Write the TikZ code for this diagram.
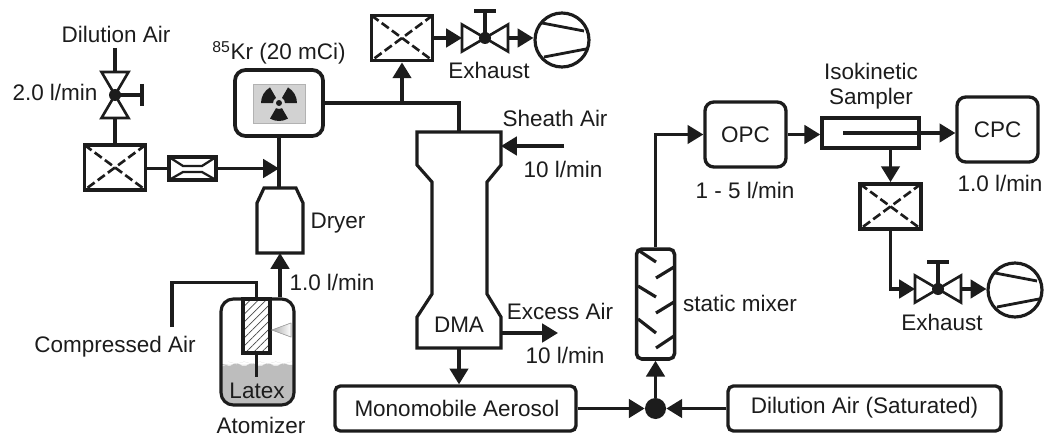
\documentclass[tikz,border=0pt]{standalone}
\usepackage{fontspec}
\setmainfont{Liberation Sans}
\usetikzlibrary{arrows.meta, positioning, calc, patterns.meta, decorations.pathmorphing}
\definecolor{inkblack}{HTML}{1C1C1C}
\definecolor{liquidgray}{HTML}{BDBDBD}
\definecolor{panelgray}{HTML}{D2D2D2}
\definecolor{conegray}{HTML}{A8A8A8}
\tikzset{
  >={Triangle[length=9pt,width=10.5pt]},
  pipe/.style={line width=1.8pt, draw=inkblack},
  flow/.style={->, line width=1.8pt, draw=inkblack},
  lbl/.style={font=\fontsize{12.8}{15}\selectfont, text=inkblack, inner sep=0pt, align=center},
  devbox/.style={draw=inkblack, line width=1.9pt, rounded corners=3pt, fill=white, inner sep=0pt,
                 font=\fontsize{12.8}{15}\selectfont, text=inkblack},
  filterbox/.style={draw=inkblack, line width=2.2pt, fill=white, minimum width=1.22cm, minimum height=0.9cm,
                    inner sep=0pt,
                    path picture={\draw[line width=1.5pt, dash pattern=on 5pt off 2.2pt]
                      (path picture bounding box.north west) -- (path picture bounding box.south east)
                      (path picture bounding box.north east) -- (path picture bounding box.south west);}},
  flowelem/.style={draw=inkblack, line width=2.1pt, fill=white, minimum width=0.94cm, minimum height=0.46cm,
                    inner sep=0pt,
                    path picture={\draw[line width=1.3pt]
                      (path picture bounding box.north west) -- ++(14,9) -- ++(19,0) -- (path picture bounding box.north east)
                      (path picture bounding box.south west) -- ++(14,-8) -- ++(19,0) -- (path picture bounding box.south east);}},
  pumpnode/.style={circle, draw=inkblack, line width=1.8pt, fill=white, minimum size=1.08cm, inner sep=0pt,
                    path picture={\draw[line width=1.6pt]
                      (path picture bounding box.center) ++(-20,-17) -- ++(42,8)
                      (path picture bounding box.center) ++(-18,17) -- ++(42,-8);}},
  valvepic/.pic={
    \draw[line width=1.5pt, draw=inkblack, fill=white] (-23,-13.5) -- (-23,13.5) -- (23,-13.5) -- (23,13.5) -- cycle;
    \draw[pipe] (0,0) -- (0,-27) (-11,-27) -- (11,-27);
    \fill[inkblack] (0,0) circle[radius=6];
    \coordinate (-in) at (-23,0);
    \coordinate (-out) at (23,0);
  },
}
\begin{document}
\begin{tikzpicture}[x=0.02cm, y=-0.02cm]
\useasboundingbox (0,0) rectangle (1050,439);

% ---- dilution air branch (left) ----
\node[lbl] (lbldilution) at (116,34) {Dilution Air};
\coordinate (dilutionin) at (115,48);
\pic[rotate=-90] (va) at (115,95) {valvepic};
\node[lbl] (lblflowa) at (55,92) {2.0 l/min};
\node[filterbox] (filtera) at (115,167.5) {};
\node[flowelem] (restrict) at (192.5,168.5) {};
\coordinate (mergea) at (279,168.5);

\draw[pipe] (dilutionin) -- (va-in);
\draw[pipe] (va-out) -- (filtera.north);
\draw[pipe] (filtera.east |- restrict.west) -- (restrict.west);
\draw[flow] (restrict.east) -- (mergea);

% ---- neutralizer ----
\node[lbl] (lblkr) at (279,53) {\textsuperscript{85}Kr (20 mCi)};
\node[devbox, rounded corners=6pt, line width=2.1pt, minimum width=1.76cm, minimum height=1.32cm] (krbox) at (279,103) {};
\node[draw=gray!60, fill=panelgray, thin, minimum width=1.04cm, minimum height=0.78cm, inner sep=0pt] (krsym) at (279,103.5) {};
\begin{scope}[shift={(279,103)}]
  \fill[inkblack] (180:18) arc[start angle=180, end angle=240, radius=18] -- (240:6) arc[start angle=240, end angle=180, radius=6] -- cycle;
  \fill[inkblack] (300:18) arc[start angle=300, end angle=360, radius=18] -- (360:6) arc[start angle=360, end angle=300, radius=6] -- cycle;
  \fill[inkblack] (60:18) arc[start angle=60, end angle=120, radius=18] -- (120:6) arc[start angle=120, end angle=60, radius=6] -- cycle;
  \fill[inkblack] (0,0) circle[radius=3];
\end{scope}

% ---- dryer and atomizer ----
\node[minimum width=0.92cm, minimum height=1.3cm, inner sep=0pt, outer sep=0pt] (dryer) at (280,220.5) {};
\draw[pipe] (264,188) -- (296,188) -- (303,203) -- (303,253) -- (257,253) -- (257,203) -- cycle;
\node[lbl] (lbldryer) at (338,223) {Dryer};
\draw[pipe] (krbox.south) -- (krbox.south |- dryer.north);

\node[devbox, rounded corners=7pt, line width=1.8pt, minimum width=1.46cm, minimum height=2.12cm,
      path picture={\fill[liquidgray] (-42,13) decorate[decoration={snake, amplitude=0.4pt, segment length=9pt}] {-- (42,13)} -- (42,58) -- (-42,58) -- cycle;}] (atomizer) at (257.5,352) {};
\node[draw=inkblack, line width=2pt, pattern={Lines[angle=45, distance=3.2pt, line width=0.4pt]}, pattern color=inkblack!80,
      minimum width=0.54cm, minimum height=1.08cm, inner sep=0pt] (tube) at (256.5,326) {};
\fill[left color=conegray, right color=white, draw=conegray, thin] (272,330) -- (291,323) -- (291,337) -- cycle;
\coordinate (stemend) at (256.5,377);
\draw[pipe] (tube.south) -- (stemend);
\node[lbl] (lbllatex) at (257,391) {Latex};
\node[lbl] (lblatomizer) at (261,425) {Atomizer};
\coordinate (airin) at (172,327);
\draw[pipe] (airin) |- ($(tube.north)+(0,-16)$) -- (tube.north);
\node[lbl] (lblair) at (115,347) {Compressed Air};
\draw[flow] (dryer.south |- atomizer.north) -- (dryer.south);
\node[lbl] (lblflowb) at (332,282) {1.0 l/min};

% ---- DMA column ----
\node[minimum width=1.68cm, minimum height=4.32cm, inner sep=0pt, outer sep=0pt] (dma) at (459,240) {};
\draw[pipe] (417,132) -- (501,132) -- (501,165) -- (487,182) -- (487,294) -- (501,317) -- (501,348)
      -- (417,348) -- (417,317) -- (432,294) -- (432,182) -- (417,165) -- cycle;
\node[lbl] (lbldma) at (459,325) {DMA};
\draw[pipe] (krbox.east) -| (dma.north);
\coordinate (tee) at (402,103);

% ---- upper exhaust ----
\node[filterbox] (filterb) at (402,38) {};
\pic (vb) at (485,38) {valvepic};
\node[pumpnode] (pumpb) at (562,40) {};
\node[lbl] (lblexhausta) at (489,70) {Exhaust};
\draw[flow] (tee) -- (filterb.south);
\draw[flow] (filterb.east) -- (vb-in);
\draw[flow] (vb-out) -- (pumpb.west |- vb-out);

% ---- sheath and excess air ----
\coordinate (sheathin) at (564,146);
\coordinate (excessout) at (558,333);
\node[lbl] (lblsheath) at (555,118) {Sheath Air};
\node[lbl] (lblsheathflow) at (563,169) {10 l/min};
\node[lbl] (lblexcess) at (560,311) {Excess Air};
\node[lbl] (lblexcessflow) at (565,355) {10 l/min};
\draw[flow] (sheathin) -- (sheathin -| dma.east);
\draw[flow] (excessout -| dma.east) -- (excessout);

% ---- bottom row ----
\node[devbox, minimum width=4.82cm, minimum height=0.9cm] (mono) at (455.5,408.5) {};
\node[lbl] (lblmono) at (457,408) {Monomobile Aerosol};
\node[devbox, minimum width=5.46cm, minimum height=0.9cm] (satair) at (864.5,408.5) {};
\node[lbl] (lblsatair) at (864.5,408) {Dilution Air (Saturated)};
\node[circle, fill=inkblack, minimum size=0.42cm, inner sep=0pt] (junction) at (655.5,408.5) {};
\draw[flow] (dma.south) -- (dma.south |- mono.north);
\draw[flow] (mono.east) -- (junction.west);
\draw[flow] (satair.west) -- (junction.east);

% ---- static mixer ----
\node[devbox, line width=2pt, minimum width=0.76cm, minimum height=2.2cm] (mixer) at (655.5,304) {};
\draw[pipe] (638,250) -- (656,262) (638,286) -- (656,297) (638,319) -- (656,333)
            (674,267) -- (656,278) (674,302) -- (656,313) (674,336) -- (656,348);
\node[lbl] (lblmixer) at (740,303) {static mixer};
\draw[flow] (junction.north) -- (mixer.south);

% ---- counters (right) ----
\node[devbox, rounded corners=5pt, minimum width=1.62cm, minimum height=1.3cm] (opc) at (745.5,134.5) {OPC};
\node[lbl] (lblopcflow) at (745,190) {1 - 5 l/min};
\node[draw=inkblack, line width=2pt, fill=white, minimum width=1.94cm, minimum height=0.6cm, inner sep=0pt] (sampler) at (870.5,133) {};
\node[lbl] (lblsampler) at (871,86) {Isokinetic\\[-0.6pt]Sampler};
\node[devbox, rounded corners=5pt, minimum width=1.62cm, minimum height=1.3cm] (cpc) at (997.5,129.5) {CPC};
\node[lbl] (lblcpcflow) at (1000,183) {1.0 l/min};
\coordinate (probe) at (843,133);
\draw[flow] (mixer.north) |- (opc.west);
\draw[flow] (opc.east) -- (sampler.west |- opc.east);
\draw[flow] (probe) -- (probe -| cpc.west);

% ---- lower exhaust ----
\node[filterbox] (filterc) at (890.5,206.5) {};
\pic (vc) at (938,289) {valvepic};
\node[pumpnode] (pumpc) at (1015,290) {};
\node[lbl] (lblexhaustb) at (942,322) {Exhaust};
\draw[flow] (sampler.south -| filterc.north) -- (filterc.north);
\draw[flow] (filterc.south) |- (vc-in);
\draw[flow] (vc-out) -- (pumpc.west |- vc-out);

\end{tikzpicture}
\end{document}
